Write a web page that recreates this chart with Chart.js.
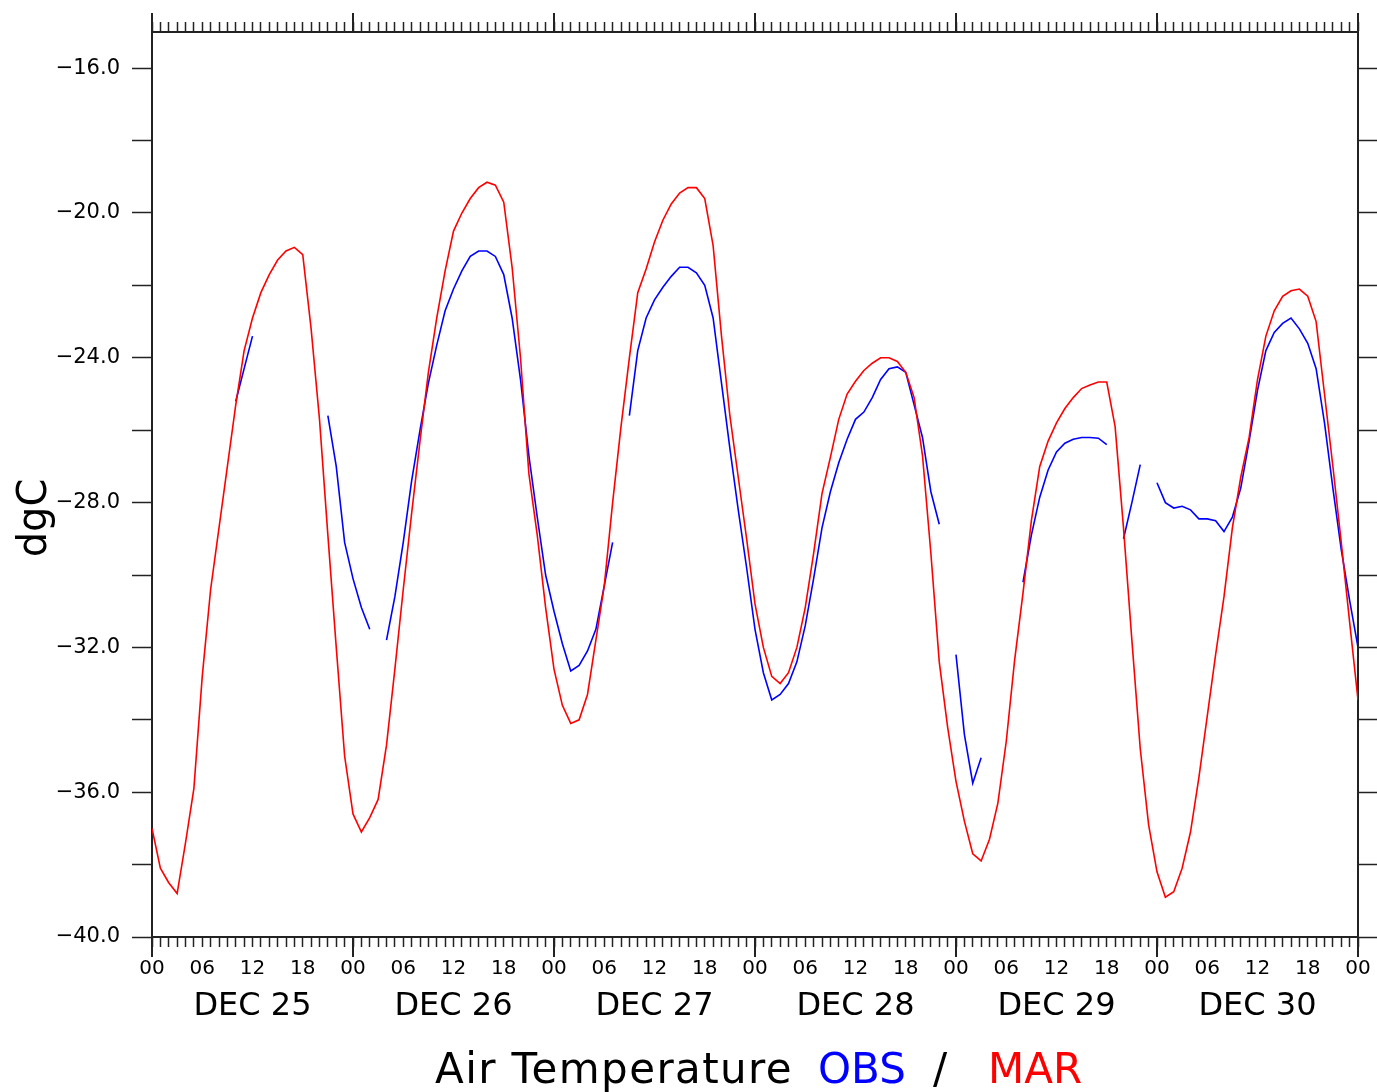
<!DOCTYPE html>
<html>
<head>
<meta charset="utf-8">
<title>Air Temperature OBS / MAR</title>
<script src="https://cdn.jsdelivr.net/npm/chart.js@4/dist/chart.umd.min.js"></script>
<style>
  html, body { margin: 0; padding: 0; background: #fff; }
  canvas { display: block; }
</style>
</head>
<body>
<canvas id="tempChart" width="1377" height="1092"></canvas>
<script>
// hourly values, DEC 25 00 .. DEC 31 00 (145 hours)
const marTemp = [
  -37.0, -38.1, -38.5, -38.8, -37.4, -35.9, -32.8, -30.4, -28.7, -27.0,
  -25.3, -23.8, -22.9, -22.2, -21.7, -21.3, -21.05, -20.95, -21.15, -23.2,
  -25.7, -28.9, -32.0, -35.0, -36.6, -37.1, -36.7, -36.2, -34.7, -32.6,
  -30.4, -28.3, -26.3, -24.4, -22.9, -21.6, -20.5, -20.0, -19.6, -19.3,
  -19.15, -19.23, -19.7, -21.5, -24.0, -27.2, -28.9, -30.9, -32.6, -33.6,
  -34.1, -34.0, -33.3, -31.8, -30.3, -28.0, -25.9, -24.0, -22.2, -21.55,
  -20.8, -20.2, -19.75, -19.45, -19.3, -19.3, -19.6, -20.9, -23.4, -25.6,
  -27.3, -29.0, -30.8, -32.0, -32.8, -33.0, -32.7, -32.0, -30.9, -29.4,
  -27.75, -26.75, -25.7, -25.0, -24.65, -24.35, -24.15, -24.0, -24.0, -24.1,
  -24.4, -25.1, -26.7, -29.4, -32.4, -34.2, -35.7, -36.8, -37.7, -37.9,
  -37.3, -36.3, -34.6, -32.35, -30.5, -28.5, -27.0, -26.3, -25.8, -25.4,
  -25.1, -24.85, -24.75, -24.67, -24.67, -25.9, -28.7, -31.8, -34.8, -36.9,
  -38.2, -38.9, -38.75, -38.1, -37.1, -35.6, -33.9, -32.2, -30.6, -28.7,
  -27.3, -26.2, -24.6, -23.4, -22.7, -22.3, -22.15, -22.1, -22.3, -23.0,
  -25.0, -27.0, -29.1, -31.3, -33.45
];

// observations, null = missing hour
const obsTemp = [
  null, null, null, null, null, null, null, null, null, null,
  -25.2, -24.3, -23.4, null, null, null, null, null, null, null,
  null, -25.6, -27.0, -29.1, -30.1, -30.9, -31.5, null, -31.8, -30.6,
  -29.1, -27.4, -26.0, -24.7, -23.65, -22.7, -22.1, -21.6, -21.2, -21.05,
  -21.05, -21.2, -21.7, -22.9, -24.6, -26.7, -28.4, -30.0, -31.0, -31.9,
  -32.65, -32.5, -32.1, -31.5, -30.3, -29.1, null, -25.6, -23.8, -22.9,
  -22.4, -22.05, -21.75, -21.5, -21.5, -21.65, -22.0, -22.9, -24.7, -26.5,
  -28.2, -29.8, -31.5, -32.7, -33.45, -33.3, -33.0, -32.4, -31.4, -30.1,
  -28.7, -27.7, -26.9, -26.25, -25.7, -25.5, -25.1, -24.6, -24.3, -24.25,
  -24.4, -25.3, -26.2, -27.7, -28.6, null, -32.2, -34.4, -35.75, -35.05,
  null, null, null, null, -30.2, -28.9, -27.85, -27.1, -26.6, -26.36,
  -26.25, -26.2, -26.2, -26.22, -26.4, null, -29.0, -28.0, -26.95, null,
  -27.45, -28.0, -28.15, -28.1, -28.2, -28.45, -28.45, -28.5, -28.8, -28.4,
  -27.6, -26.3, -24.9, -23.8, -23.3, -23.05, -22.9, -23.2, -23.6, -24.3,
  -25.8, -27.6, -29.3, -30.7, -32.0
];

const hourLabels = ['00', '06', '12', '18'];
const dayLabels = ['DEC 25', 'DEC 26', 'DEC 27', 'DEC 28', 'DEC 29', 'DEC 30'];
const yTickValues = [-40, -38, -36, -34, -32, -30, -28, -26, -24, -22, -20, -18, -16];
const yLabeled = [-40, -36, -32, -28, -24, -20, -16];

(() => {
    const FONT = "'DejaVu Sans', 'Liberation Sans', sans-serif";
    const AXIS = '#222';
    const nHours = marTemp.length - 1;

    // tick positions: every hour, major every day, day labels at noon
    const hourTicks = marTemp.map((_, i) => ({ value: i }));
    const dayTicks = [0, 1, 2, 3, 4, 5, 6].map(d => d * 24);
    const dayCenters = dayLabels.map((_, d) => d * 24 + 12);

    const toPoints = arr => arr.map((v, i) => ({ x: i, y: v }));

    const fmtY = v => yLabeled.includes(v) ? v.toFixed(1).replace('-', '\u2212') : '';

    // long ticks at 00 of each day, top and bottom
    const majorTicks = {
        id: 'majorTicks',
        afterDraw(chart) {
            const { ctx, chartArea, scales } = chart;
            ctx.save();
            ctx.strokeStyle = AXIS;
            ctx.lineWidth = 2;
            dayTicks.forEach(h => {
                const x = Math.round(scales.x.getPixelForValue(h));
                ctx.beginPath();
                ctx.moveTo(x, chartArea.bottom);
                ctx.lineTo(x, chartArea.bottom + 20);
                ctx.moveTo(x, chartArea.top);
                ctx.lineTo(x, chartArea.top - 19);
                ctx.stroke();
            });
            ctx.restore();
        }
    };

    // y title and coloured bottom title
    const titles = {
        id: 'titles',
        afterDraw(chart) {
            const { ctx } = chart;
            ctx.save();
            ctx.fillStyle = '#000';
            ctx.font = `40px ${FONT}`;
            ctx.translate(36, 518);
            ctx.rotate(-Math.PI / 2);
            ctx.textAlign = 'center';
            ctx.textBaseline = 'middle';
            ctx.fillText('dgC', 0, 0);
            ctx.restore();

            const parts = [
                { text: 'Air Temperature', color: '#000', x: 435, spacing: '1.4px' },
                { text: 'OBS', color: '#0000ff', x: 818, spacing: '0px' },
                { text: '/', color: '#000', x: 933, spacing: '0px' },
                { text: 'MAR', color: '#ff0000', x: 988, spacing: '0px' }
            ];
            ctx.save();
            ctx.font = `42px ${FONT}`;
            ctx.textAlign = 'left';
            ctx.textBaseline = 'alphabetic';
            parts.forEach(p => {
                ctx.fillStyle = p.color;
                ctx.letterSpacing = p.spacing;
                ctx.fillText(p.text, p.x, 1083);
            });
            ctx.restore();
        }
    };

    const tickGrid = len => ({
        drawOnChartArea: false,
        drawTicks: true,
        tickLength: len,
        tickColor: AXIS,
        tickWidth: 1.5
    });
    const border = { display: true, color: AXIS, width: 2 };

    // fixed box sizes so the plot frame lands where the reference has it
    const fixHeight = h => s => {
        s.height = h;
        s.paddingLeft = 0;
        s.paddingRight = 0;
    };

    const init = () => {
        Chart.defaults.font.family = FONT;
        Chart.defaults.color = '#000';

        new Chart(document.getElementById('tempChart'), {
            type: 'line',
            data: {
                datasets: [
                    {
                        label: 'MAR',
                        data: toPoints(marTemp),
                        borderColor: '#ff0000',
                        borderWidth: 1.6,
                        pointRadius: 0,
                        tension: 0,
                        xAxisID: 'x',
                        yAxisID: 'y'
                    },
                    {
                        label: 'OBS',
                        data: toPoints(obsTemp),
                        borderColor: '#0000ff',
                        borderWidth: 1.6,
                        pointRadius: 0,
                        tension: 0,
                        spanGaps: false,
                        xAxisID: 'x',
                        yAxisID: 'y'
                    }
                ]
            },
            options: {
                responsive: false,
                animation: false,
                devicePixelRatio: 1,
                layout: { autoPadding: false, padding: { left: 0, right: 0, top: 0, bottom: 62 } },
                plugins: {
                    legend: { display: false },
                    tooltip: { enabled: false }
                },
                scales: {
                    x: {
                        type: 'linear',
                        position: 'bottom',
                        min: 0,
                        max: nHours,
                        afterBuildTicks: s => { s.ticks = hourTicks.map(t => ({ ...t })); },
                        afterFit: fixHeight(48),
                        grid: tickGrid(10),
                        border,
                        ticks: {
                            autoSkip: false,
                            maxRotation: 0,
                            padding: 10,
                            font: { size: 20 },
                            callback: v => v % 6 === 0 ? hourLabels[(v % 24) / 6] : ''
                        }
                    },
                    xDay: {
                        type: 'linear',
                        position: 'bottom',
                        min: 0,
                        max: nHours,
                        afterBuildTicks: s => { s.ticks = dayCenters.map(v => ({ value: v })); },
                        afterFit: fixHeight(45),
                        grid: { display: false, drawTicks: false },
                        border: { display: false },
                        ticks: {
                            autoSkip: false,
                            maxRotation: 0,
                            padding: 2,
                            font: { size: 32 },
                            callback: (v, i) => dayLabels[i]
                        }
                    },
                    xTop: {
                        type: 'linear',
                        position: 'top',
                        min: 0,
                        max: nHours,
                        afterBuildTicks: s => { s.ticks = hourTicks.map(t => ({ ...t })); },
                        afterFit: fixHeight(32),
                        grid: tickGrid(10),
                        border,
                        ticks: { display: false }
                    },
                    y: {
                        type: 'linear',
                        position: 'left',
                        min: -40,
                        max: -15,
                        afterBuildTicks: s => { s.ticks = yTickValues.map(v => ({ value: v })); },
                        afterFit: s => { s.width = 152; },
                        grid: tickGrid(20),
                        border,
                        ticks: {
                            padding: 12,
                            font: { size: 21 },
                            callback: v => fmtY(v)
                        }
                    },
                    yRight: {
                        type: 'linear',
                        position: 'right',
                        min: -40,
                        max: -15,
                        afterBuildTicks: s => { s.ticks = yTickValues.map(v => ({ value: v })); },
                        afterFit: s => { s.width = 19; },
                        grid: tickGrid(20),
                        border,
                        ticks: { display: false }
                    }
                }
            },
            plugins: [majorTicks, titles]
        });
    };

    if (document.readyState !== 'loading') {
        init();
    } else {
        document.addEventListener('DOMContentLoaded', init);
    }
})();
</script>
</body>
</html>
